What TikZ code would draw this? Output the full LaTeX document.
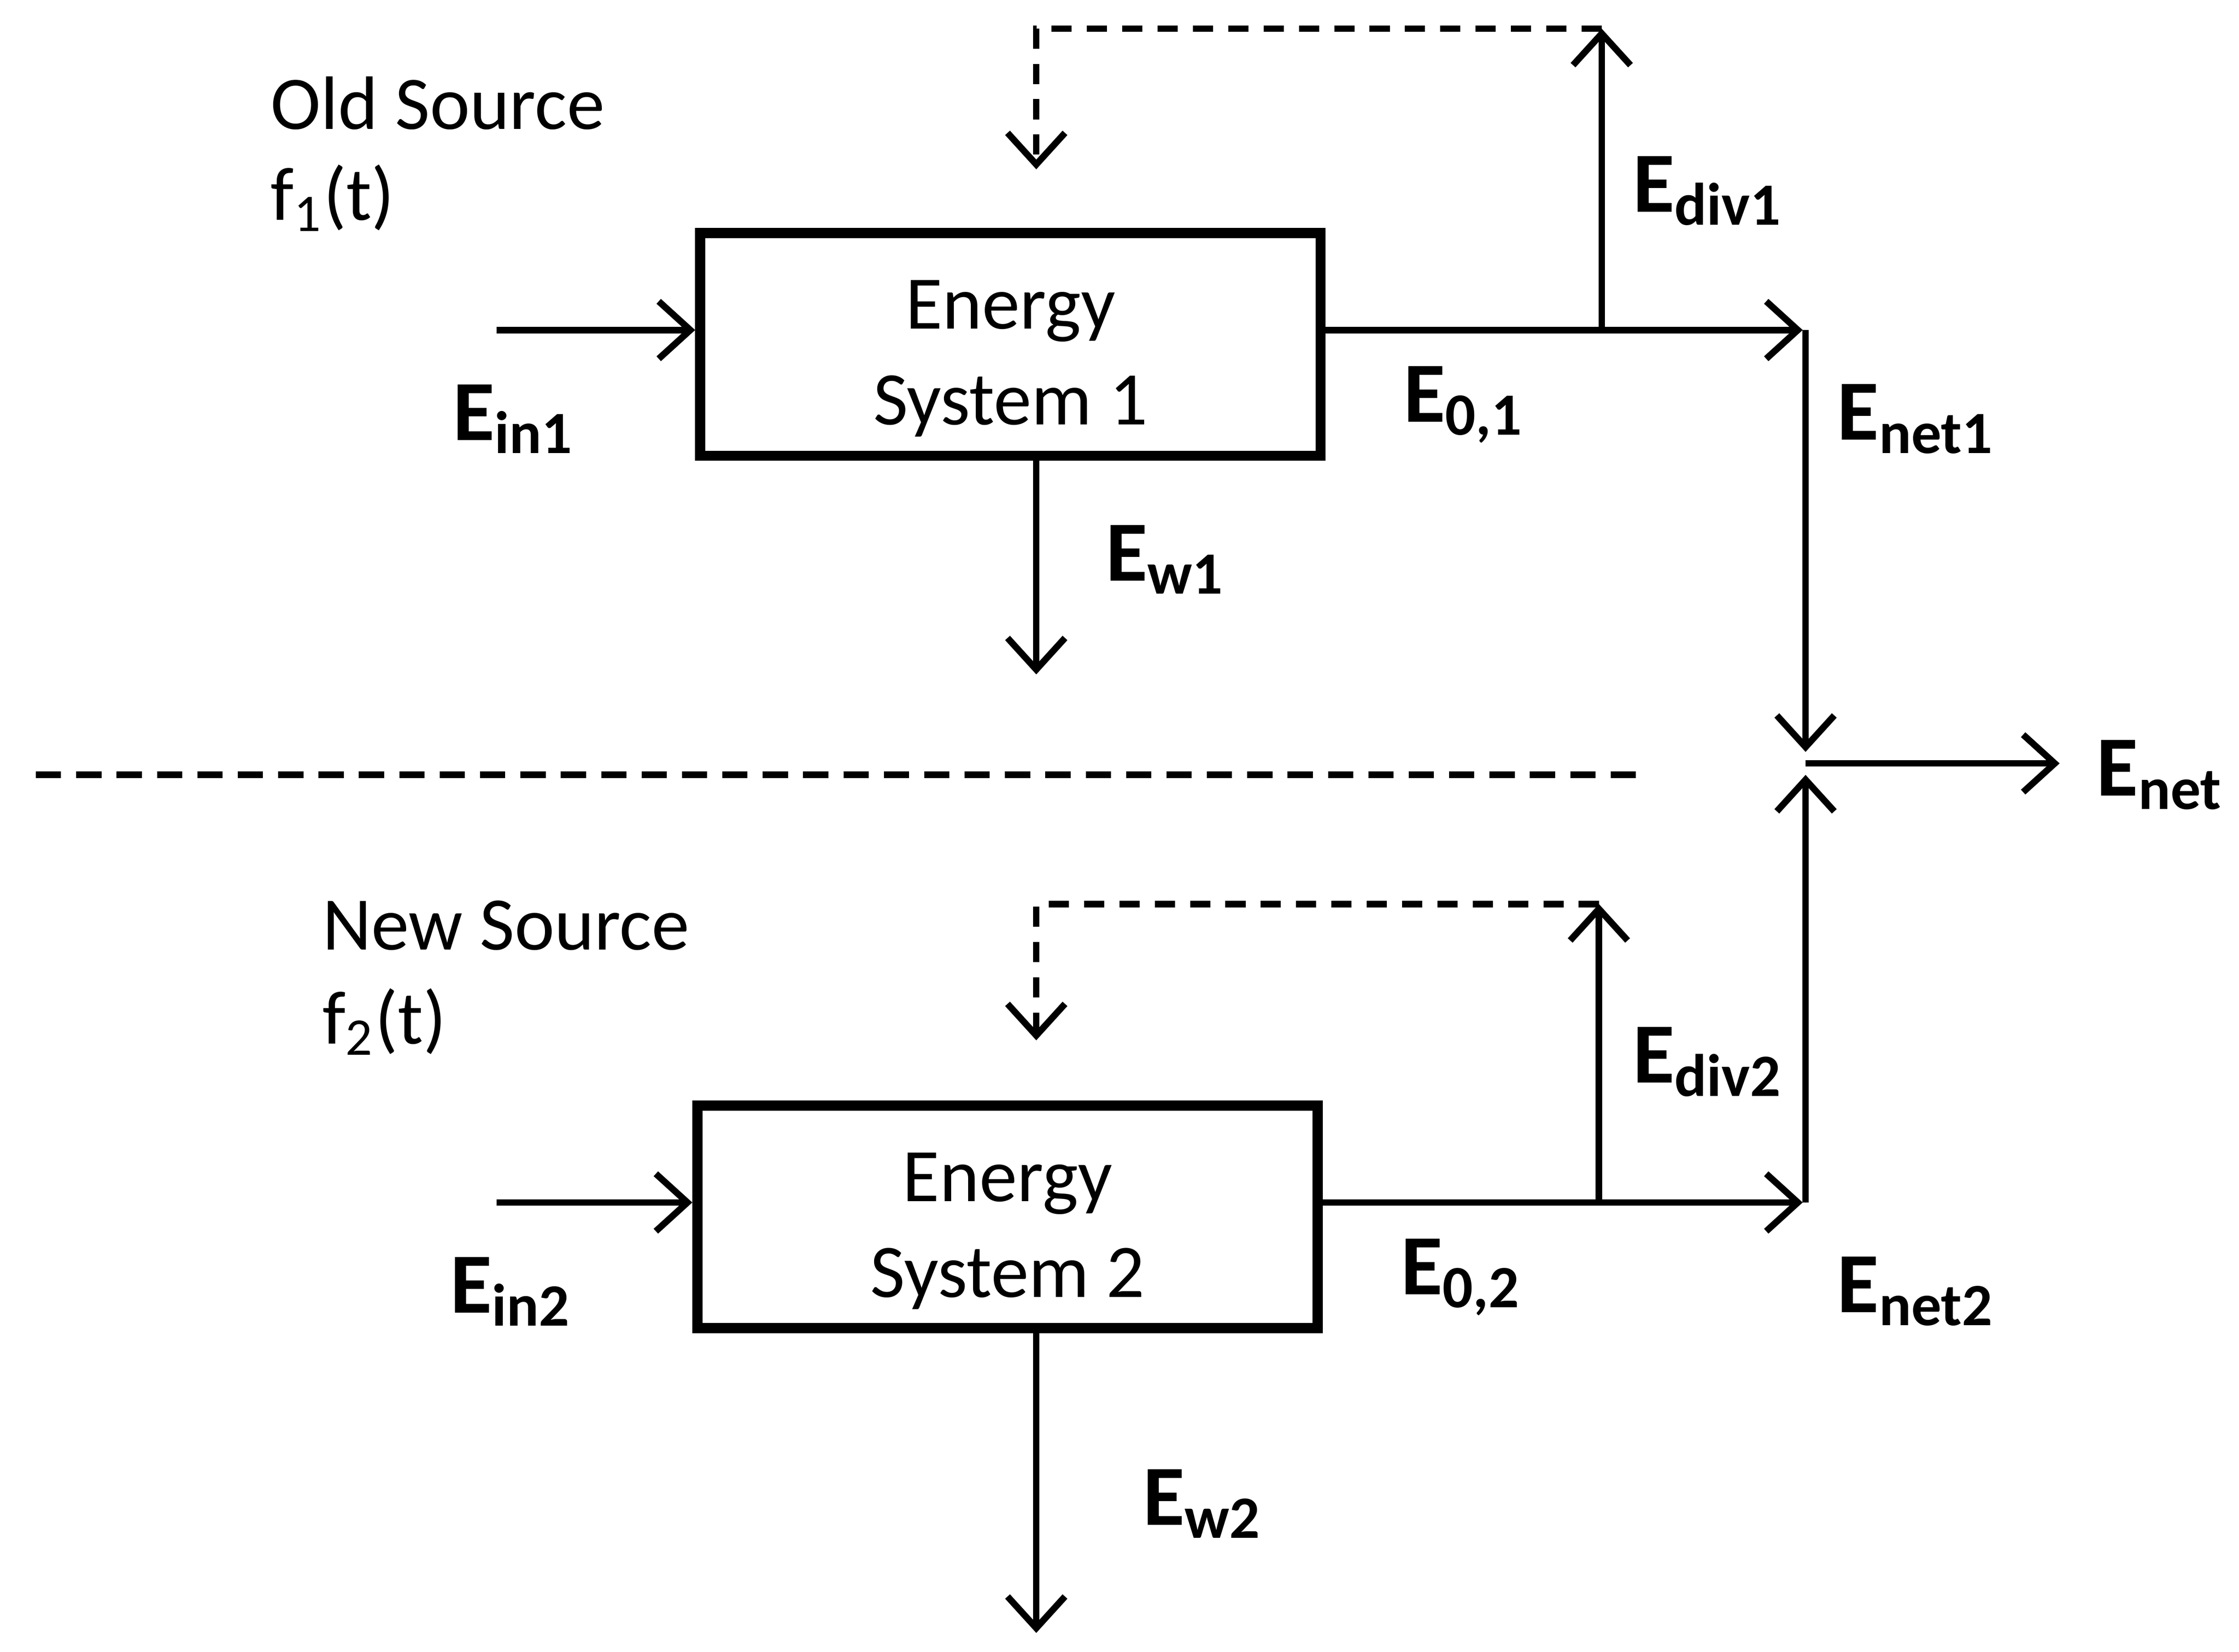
\documentclass[tikz,border=0pt]{standalone}
\usepackage{fontspec}
\setmainfont{Carlito}
\usetikzlibrary{arrows.meta}
\begin{document}
\begin{tikzpicture}[x=0.01cm,y=-0.01cm,
    >={Straight Barb[length=2.2mm,width=4mm,line width=1.3pt]},
    flow/.style={line width=1.3pt,->},
    fb/.style={line width=1.3pt,dash pattern=on 4pt off 3pt,->},
    sys/.style={draw,line width=2pt,minimum width=4.32cm,minimum height=1.55cm,inner sep=0pt},
    lbl/.style={font=\fontsize{17}{20}\selectfont\bfseries,inner sep=0pt},
    txt/.style={font=\fontsize{15}{19}\selectfont,align=left,inner sep=0pt},
    ctxt/.style={font=\fontsize{15}{19}\selectfont,align=center,inner sep=0pt}
]
\useasboundingbox (0,0) rectangle (1560,1151);

% systems
\node[sys] (s1) at (704,240) {};
\node[sys] (s2) at (702,848) {};
\node[ctxt] (t1) at (704,250) {Energy\\System 1};
\node[ctxt] (t2) at (702,858) {Energy\\System 2};

% junction points
\coordinate (in1) at (346,230);
\coordinate (in2) at (346,838);
\coordinate (o1) at (1256,230);
\coordinate (o2) at (1256,838);
\coordinate (d1) at (1116,230);
\coordinate (d2) at (1114,838);
\coordinate (d1t) at (1116,20);
\coordinate (d2t) at (1114,630);
\coordinate (f1) at (722,118);
\coordinate (f2) at (722,725);
\coordinate (w1) at (722,470);
\coordinate (w2) at (722,1138);
\coordinate (m) at (1258,532);
\coordinate (out) at (1435,532);

% flows, system 1
\draw[flow] (in1) -- (s1.west |- in1);
\draw[flow] (s1.east |- o1) -- (o1);
\draw[flow] (d1) -- (d1t);
\draw[fb] (d1t) -- (f1 |- d1t) -- (f1);
\draw[flow] (s1.south -| w1) -- (w1);

% flows, system 2
\draw[flow] (in2) -- (s2.west |- in2);
\draw[flow] (s2.east |- o2) -- (o2);
\draw[flow] (d2) -- (d2t);
\draw[fb] (d2t) -- (f2 |- d2t) -- (f2);
\draw[flow] (s2.south -| w2) -- (w2);

% net
\draw[flow] (1258,230) -- ([yshift=0.08cm]m);
\draw[flow] (1258,838) -- ([yshift=-0.08cm]m);
\draw[flow] (m) -- (out);

% separator
\draw[line width=1.3pt,dash pattern=on 5pt off 3pt] (25,540) -- (1140,540);

% texts
\node[txt,anchor=west] (old) at (188,72) {Old Source};
\node[txt,anchor=west] (fa) at (188,138) {f\textsubscript{1}(t)};
\node[txt,anchor=west] (new) at (224,645) {New Source};
\node[txt,anchor=west] (fb) at (224,712) {f\textsubscript{2}(t)};

\node[lbl] at (358,292) {E\textsubscript{in1}};
\node[lbl] at (356,900) {E\textsubscript{in2}};
\node[lbl] at (1190,133) {E\textsubscript{div1}};
\node[lbl] at (1190,740) {E\textsubscript{div2}};
\node[lbl] at (1020,282) {E\textsubscript{0,1}};
\node[lbl] at (1018,890) {E\textsubscript{0,2}};
\node[lbl] at (1335,292) {E\textsubscript{net1}};
\node[lbl] at (1335,900) {E\textsubscript{net2}};
\node[lbl] at (812,390) {E\textsubscript{w1}};
\node[lbl] at (838,1048) {E\textsubscript{w2}};
\node[lbl] at (1505,540) {E\textsubscript{net}};
\end{tikzpicture}
\end{document}
